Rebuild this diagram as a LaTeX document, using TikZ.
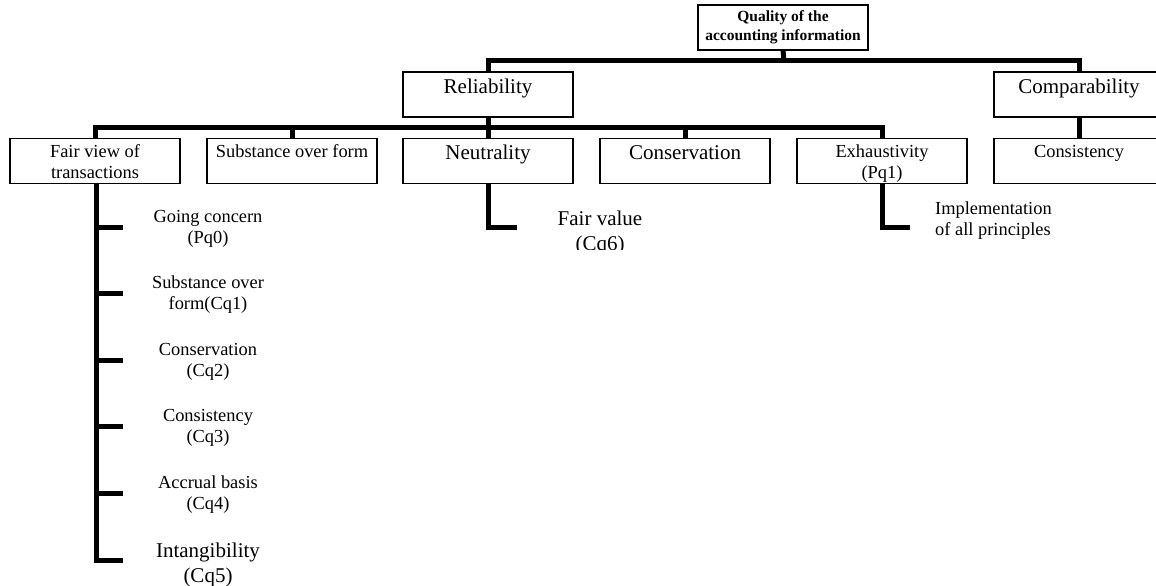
\documentclass[tikz,border=0pt]{standalone}
\usepackage{fontspec}
\setmainfont{Liberation Serif}
\newcommand{\fbig}{\fontsize{21}{25}\selectfont}
\newcommand{\fmid}{\fontsize{18.4}{21}\selectfont}
\newcommand{\ftop}{\fontsize{15.5}{19}\selectfont\bfseries}
\tikzset{
  box/.style={draw, line width=1.5pt, minimum width=170pt, minimum height=45pt, inner sep=0pt, outer sep=0pt},
  lbl/.style={anchor=north, inner sep=0pt, outer sep=0pt, align=center},
  side/.style={anchor=north, inner sep=0pt, outer sep=0pt, align=center, font=\fmid},
  conn/.style={line width=5pt, line join=miter}
}
\begin{document}
\begin{tikzpicture}[x=1pt,y=-1pt]
\useasboundingbox (0,0) rectangle (1156,586);
% top
\node[box, align=center, font=\ftop] (q) at (783,27.5) {Quality of the\\accounting information};
% level 1
\node[box] (rel) at (488,94.5) {};
\node[lbl, font=\fbig] (relt) at ([yshift=-3.5pt]rel.north) {\strut Reliability};
\node[box] (comp) at (1079,94.5) {};
\node[lbl, font=\fbig] (compt) at ([yshift=-3.5pt]comp.north) {\strut Comparability};
% level 2
\node[box] (fv) at (95,160.75) {};
\node[lbl, font=\fmid] (fvt) at ([yshift=-4.3pt]fv.north) {\strut Fair view of\\transactions};
\node[box] (sub) at (292,160.75) {};
\node[lbl, font=\fmid] (subt) at ([yshift=-4.3pt]sub.north) {\strut Substance over form};
\node[box] (neu) at (488,160.75) {};
\node[lbl, font=\fbig] (neut) at ([yshift=-4pt]neu.north) {\strut Neutrality};
\node[box] (con) at (685,160.75) {};
\node[lbl, font=\fbig] (cont) at ([yshift=-4pt]con.north) {\strut Conservation};
\node[box] (exh) at (882,160.75) {};
\node[lbl, font=\fmid] (exht) at ([yshift=-4.3pt]exh.north) {\strut Exhaustivity\\(Pq1)};
\node[box] (cst) at (1079,160.75) {};
\node[lbl, font=\fmid] (cstt) at ([yshift=-4.3pt]cst.north) {\strut Consistency};
% junctions
\coordinate (j1) at (784,61);
\coordinate (j2) at (488,127);
\draw[conn] (q.south) -- (j1);
\draw[conn] (rel.north) |- (j1) -| (comp.north);
\draw[conn] (rel.south) -- (j2);
\draw[conn] (fv.north) |- (j2) -| (exh.north);
\draw[conn] (sub.north) -- (sub.north |- j2);
\draw[conn] (con.north) -- (con.north |- j2);
\draw[conn] (neu.north) -- (neu.north |- j2);
\draw[conn] (comp.south) -- (cst.north);
% fair view column
\coordinate (e1) at (123,227);
\coordinate (e2) at (123,293.6);
\coordinate (e3) at (123,360.2);
\coordinate (e4) at (123,426.8);
\coordinate (e5) at (123,493.4);
\coordinate (e6) at (123,560);
\draw[conn] ([xshift=1pt]fv.south) |- (e6);
\foreach \e in {e1,e2,e3,e4,e5}{\draw[conn] ([xshift=1pt]fv.south |- \e) -- (\e);}
\node[side] (s1) at (208,207.3) {\strut Going concern\\(Pq0)};
\node[side] (s2) at (208,273.9) {\strut Substance over\\form(Cq1)};
\node[side] (s3) at (208,340.5) {\strut Conservation\\(Cq2)};
\node[side] (s4) at (208,407.1) {\strut Consistency\\(Cq3)};
\node[side] (s5) at (208,473.7) {\strut Accrual basis\\(Cq4)};
\node[side, font=\fbig] (s6) at (208,539.5) {\strut Intangibility\\(Cq5)};
% neutrality
\coordinate (n1) at (517,227);
\draw[conn] (neu.south) |- (n1);
\begin{scope}
\clip (530,190) rectangle (680,249);
\node[side, font=\fbig] (fvl) at (600,207.5) {\strut Fair value\\(Cq6)};
\end{scope}
% exhaustivity
\coordinate (x1) at (910,227);
\draw[conn] (exh.south) |- (x1);
\node[anchor=north west, inner sep=0pt, align=left, font=\fmid] (impl) at (935,199.3) {\strut Implementation\\of all principles};
\end{tikzpicture}
\end{document}
